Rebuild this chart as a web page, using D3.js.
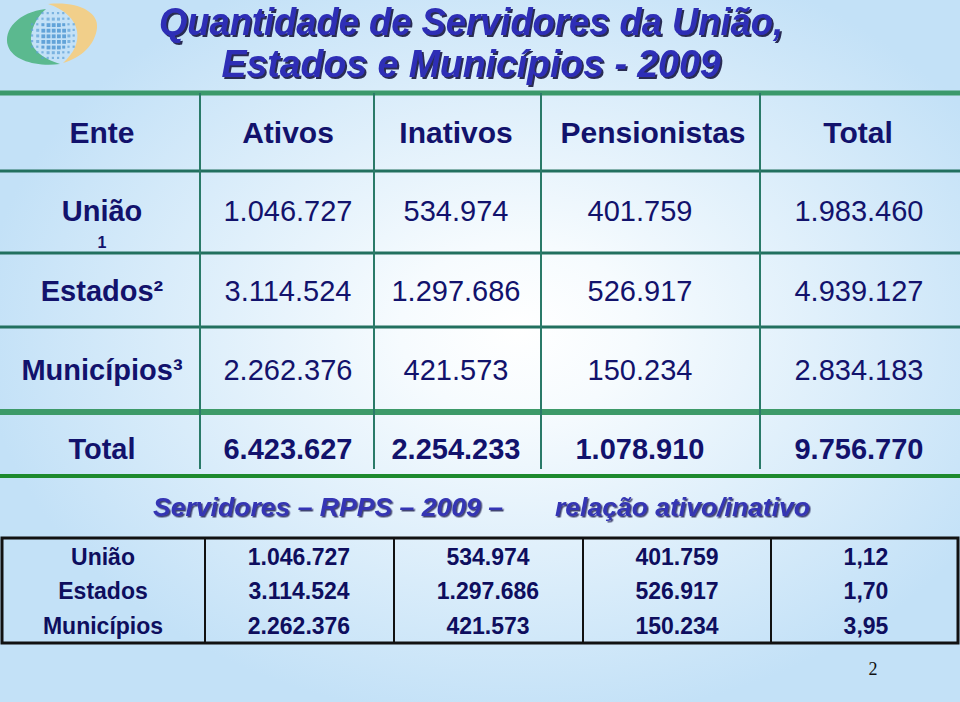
<!DOCTYPE html>
<html>
<head>
<meta charset="utf-8">
<script src="https://cdn.jsdelivr.net/npm/d3@7"></script>
<style>
  html, body { margin: 0; padding: 0; overflow: hidden; background: #ffffff; }
  svg { display: block; }
</style>
</head>
<body>
<svg id="chart" width="960" height="702"></svg>
<script>
// ---------------- DATA ----------------
const titleLines = ["Quantidade de Servidores da União,", "Estados e Municípios - 2009"];
const headers = ["Ente", "Ativos", "Inativos", "Pensionistas", "Total"];
const entes = ["União", "Estados²", "Municípios³"];
const enteNotes = ["1", "", ""];
const ativos = [1046727, 3114524, 2262376];
const inativos = [534974, 1297686, 421573];
const pensionistas = [401759, 526917, 150234];
const totais = [1983460, 4939127, 2834183];
const totalLabel = "Total";
const totalRow = [6423627, 2254233, 1078910, 9756770];

const subtitleA = "Servidores – RPPS – 2009 –";
const subtitleB = "relação ativo/inativo";
const entesRpps = ["União", "Estados", "Municípios"];
const relacao = [1.12, 1.70, 3.95];
const pageNumber = "2";

// ---------------- SETUP ----------------
const W = 960, H = 702;
const svg = d3.select("#chart");
const br = d3.formatLocale({ decimal: ",", thousands: ".", grouping: [3], currency: ["R$", ""] });
const fmtInt = br.format(",d");
const fmtDec = br.format(".2f");
const SANS = "'Liberation Sans', Arial, Helvetica, sans-serif";
const NAVY = "#12126c";

const defs = svg.append("defs");
// background
const rg = defs.append("radialGradient").attr("id", "bg")
  .attr("cx", 0.54).attr("cy", 0.47).attr("r", 0.56);
rg.append("stop").attr("offset", 0).attr("stop-color", "#ffffff");
rg.append("stop").attr("offset", 0.22).attr("stop-color", "#f6fbfe");
rg.append("stop").attr("offset", 1).attr("stop-color", "#c3e1f7");
svg.append("rect").attr("width", W).attr("height", H).attr("fill", "url(#bg)");

// drop shadows
const sh1 = defs.append("filter").attr("id", "sh1").attr("x", "-5%").attr("y", "-30%").attr("width", "110%").attr("height", "160%");
sh1.append("feDropShadow").attr("dx", 2).attr("dy", 2).attr("stdDeviation", 0.6)
  .attr("flood-color", "#141440").attr("flood-opacity", 0.9);
const sh2 = defs.append("filter").attr("id", "sh2").attr("x", "-5%").attr("y", "-30%").attr("width", "110%").attr("height", "160%");
sh2.append("feDropShadow").attr("dx", 1.5).attr("dy", 1.5).attr("stdDeviation", 0.6)
  .attr("flood-color", "#1c1c50").attr("flood-opacity", 0.8);

// ---------------- LOGO ----------------
const logo = svg.append("g");
logo.append("path")
  .attr("d", "M46,9 C18,12 3,30 8,46 C13,61 38,67 60,64 C41,58 30,48 31,37 C32,26 38,16 46,9 Z")
  .attr("fill", "#5bb98f");
logo.append("path")
  .attr("d", "M48,4 C78,1 99,12 97,28 C95,45 81,58 63,63 C74,53 79,42 77,31 C75,19 64,9 48,4 Z")
  .attr("fill", "#f1cf8a");
const sq = [];
for (let r = 0; r < 9; r++) {
  for (let c = 0; c < 9; c++) {
    const dx = c - 4, dy = r - 4;
    const d = Math.sqrt(dx * dx + dy * dy);
    if (d > 4.6) continue;
    sq.push({ x: 31 + c * 5.2, y: 12 + r * 5.6, s: d < 2.5 ? 3.8 : (d < 3.6 ? 3 : 2.2), o: d < 3 ? 0.95 : 0.7 });
  }
}
logo.selectAll("rect.sq").data(sq).join("rect").attr("class", "sq")
  .attr("x", d => d.x).attr("y", d => d.y).attr("width", d => d.s).attr("height", d => d.s)
  .attr("fill", "#5d9fd6").attr("opacity", d => d.o);

// ---------------- TITLE ----------------
const titleY = [35, 77];
const titleLen = [624, 499];
titleLines.forEach((t, i) => {
  svg.append("text")
    .attr("x", 471).attr("y", titleY[i])
    .attr("text-anchor", "middle")
    .attr("font-family", SANS).attr("font-weight", "bold").attr("font-style", "italic")
    .attr("font-size", 38)
    .attr("textLength", titleLen[i]).attr("lengthAdjust", "spacingAndGlyphs")
    .attr("fill", "#2e2eb6").attr("filter", "url(#sh1)").text(t);
});

// ---------------- TOP TABLE ----------------
const colEdges = [0, 200, 374, 541, 760, 960];
const headerCenters = [102, 288, 456, 653, 858];
const valueCenters = [102, 288, 456, 640, 859];
const xHead = d3.scaleOrdinal().domain(headers).range(headerCenters);
const xVal = d3.scaleOrdinal().domain(headers).range(valueCenters);
const rowKeys = ["header"].concat(entes, [totalLabel]);
const yBase = d3.scaleOrdinal().domain(rowKeys).range([143, 221, 301, 380, 459]);

const hRules = [
  { y: 93, w: 5, c: "#3b996b" },
  { y: 171, w: 3, c: "#22705f" },
  { y: 253, w: 3, c: "#22705f" },
  { y: 327, w: 3, c: "#22705f" },
  { y: 412, w: 6, c: "#3d9a69" },
  { y: 476, w: 4, c: "#1d8a2e" }
];
svg.selectAll("line.h").data(hRules).join("line").attr("class", "h")
  .attr("x1", 0).attr("x2", W).attr("y1", d => d.y).attr("y2", d => d.y)
  .attr("stroke", d => d.c).attr("stroke-width", d => d.w);
svg.selectAll("line.v").data(colEdges.slice(1, -1)).join("line").attr("class", "v")
  .attr("x1", d => d).attr("x2", d => d).attr("y1", 93).attr("y2", 469)
  .attr("stroke", "#2a7a68").attr("stroke-width", 2);

svg.selectAll("text.hd").data(headers).join("text").attr("class", "hd")
  .attr("x", d => xHead(d)).attr("y", yBase("header"))
  .attr("text-anchor", "middle").attr("font-family", SANS).attr("font-weight", "bold")
  .attr("font-size", 30).attr("fill", NAVY).text(d => d);

const rows = entes.map((e, i) => ({ ente: e, note: enteNotes[i], vals: [ativos[i], inativos[i], pensionistas[i], totais[i]] }));
rows.forEach(r => {
  svg.append("text").attr("x", xVal("Ente")).attr("y", yBase(r.ente))
    .attr("text-anchor", "middle").attr("font-family", SANS).attr("font-weight", "bold")
    .attr("font-size", 29).attr("fill", NAVY).text(r.ente);
  if (r.note) {
    svg.append("text").attr("x", xVal("Ente")).attr("y", yBase(r.ente) + 27)
      .attr("text-anchor", "middle").attr("font-family", SANS).attr("font-weight", "bold")
      .attr("font-size", 16).attr("fill", NAVY).text(r.note);
  }
  r.vals.forEach((v, j) => {
    svg.append("text").attr("x", xVal(headers[j + 1])).attr("y", yBase(r.ente))
      .attr("text-anchor", "middle").attr("font-family", SANS)
      .attr("font-size", 29).attr("fill", NAVY).text(fmtInt(v));
  });
});
svg.append("text").attr("x", xVal("Ente")).attr("y", yBase(totalLabel))
  .attr("text-anchor", "middle").attr("font-family", SANS).attr("font-weight", "bold")
  .attr("font-size", 29).attr("fill", NAVY).text(totalLabel);
totalRow.forEach((v, j) => {
  svg.append("text").attr("x", xVal(headers[j + 1])).attr("y", yBase(totalLabel))
    .attr("text-anchor", "middle").attr("font-family", SANS).attr("font-weight", "bold")
    .attr("font-size", 29).attr("fill", NAVY).text(fmtInt(v));
});

// ---------------- SUBTITLE ----------------
[[subtitleA, 153, 350], [subtitleB, 555, 255]].forEach(([t, x, len]) => {
  svg.append("text").attr("x", x).attr("y", 516)
    .attr("font-family", SANS).attr("font-weight", "bold").attr("font-style", "italic")
    .attr("font-size", 26).attr("textLength", len).attr("lengthAdjust", "spacingAndGlyphs")
    .attr("fill", "#3434b4").attr("filter", "url(#sh2)").text(t);
});

// ---------------- BOTTOM TABLE ----------------
const bEdges = [2, 205, 394, 583, 771, 958];
const bCenters = [103, 299, 488, 677, 866];
const bCols = ["ente", "ativos", "inativos", "pensionistas", "relacao"];
const xb = d3.scaleOrdinal().domain(bCols).range(bCenters);
const yb = d3.scaleOrdinal().domain(entesRpps).range([565, 599, 634]);
svg.append("rect").attr("x", bEdges[0]).attr("y", 538)
  .attr("width", bEdges[5] - bEdges[0]).attr("height", 105)
  .attr("fill", "none").attr("stroke", "#111111").attr("stroke-width", 3);
svg.selectAll("line.bv").data(bEdges.slice(1, -1)).join("line").attr("class", "bv")
  .attr("x1", d => d).attr("x2", d => d).attr("y1", 538).attr("y2", 643)
  .attr("stroke", "#111111").attr("stroke-width", 2);
entesRpps.forEach((e, i) => {
  const cells = [e, fmtInt(ativos[i]), fmtInt(inativos[i]), fmtInt(pensionistas[i]), fmtDec(relacao[i])];
  cells.forEach((c, j) => {
    svg.append("text").attr("x", xb(bCols[j])).attr("y", yb(e))
      .attr("text-anchor", "middle").attr("font-family", SANS).attr("font-weight", "bold")
      .attr("font-size", 23).attr("fill", "#0e0e5e").text(c);
  });
});

svg.append("text").attr("x", 873).attr("y", 675).attr("text-anchor", "middle")
  .attr("font-family", "'Liberation Serif', 'Times New Roman', serif").attr("font-size", 18)
  .attr("fill", "#111").text(pageNumber);
</script>
</body>
</html>
